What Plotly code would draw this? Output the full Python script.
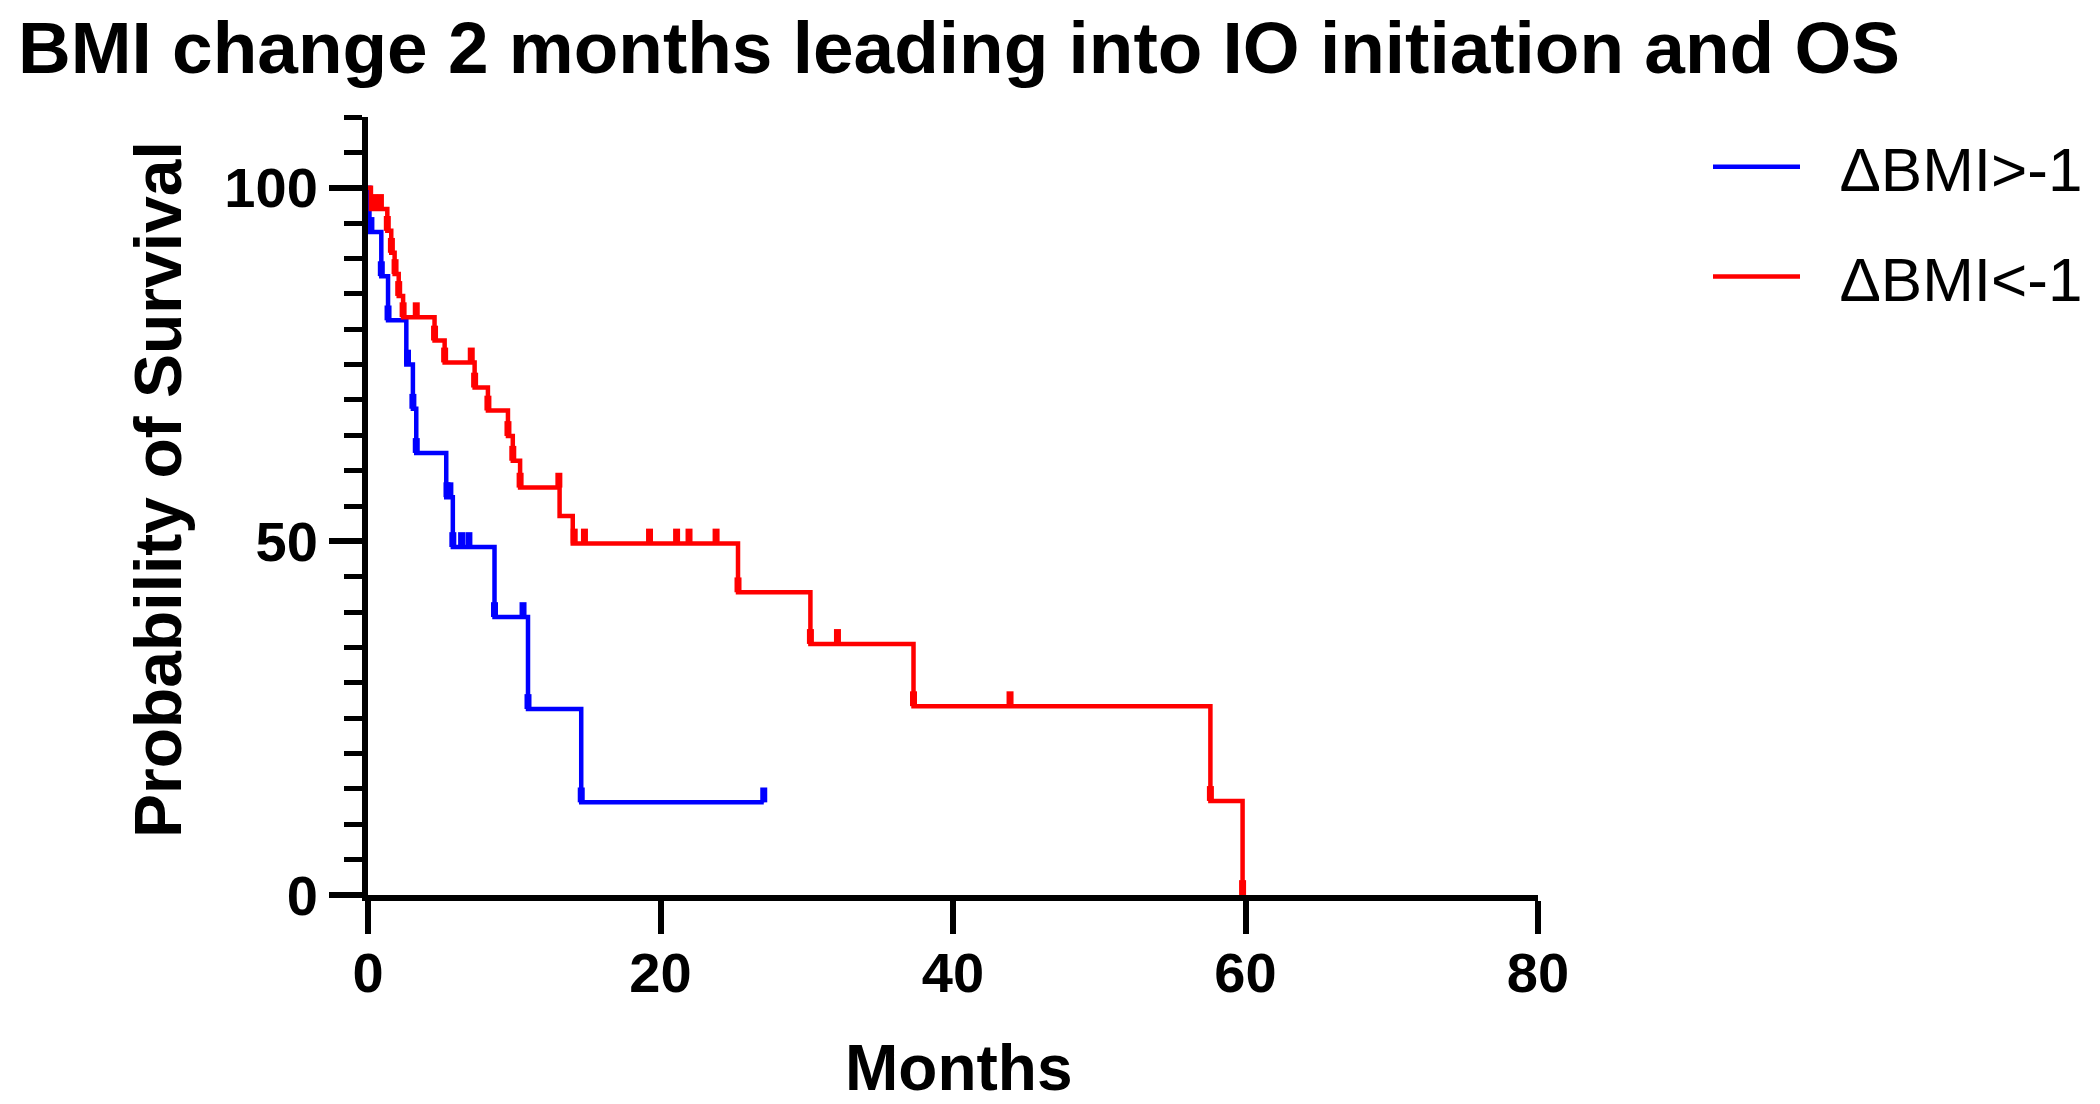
import numpy as np
import plotly.graph_objects as go

# ---------------- data ----------------
series_names = ["ΔBMI>-1", "ΔBMI<-1"]
series_colors = ["#0000FF", "#FF0000"]

blue_event_times = [0.1, 0.91, 1.37, 2.62, 3.07, 3.3, 5.35, 5.8, 8.65, 10.94, 14.58]
blue_survival = [93.75, 87.5, 81.25, 75.0, 68.75, 62.5, 56.25, 49.2, 39.3, 26.3, 13.1]
blue_censor_times = [0.2, 0.91, 1.37, 2.7, 3.07, 3.3, 5.4, 5.6, 5.8, 6.4, 6.9,
                     8.65, 10.6, 10.94, 14.58, 27.06]

red_event_times = [0.2, 1.32, 1.59, 1.82, 2.1, 2.4, 4.55, 5.24, 7.29, 8.2, 9.57,
                   9.9, 10.4, 13.1, 14.0, 25.3, 30.25, 37.3, 57.6, 59.8]
red_survival = [97.0, 93.9, 90.8, 87.8, 84.7, 81.7, 78.4, 75.3, 71.75, 68.5, 64.9,
                61.4, 57.6, 53.6, 49.7, 42.8, 35.5, 26.7, 13.3, 0.0]
red_censor_times = [0.4, 0.85, 1.32, 1.6, 1.85, 2.1, 2.4, 3.3, 4.55, 5.24, 7.06,
                    7.29, 8.2, 9.57, 9.9, 10.4, 13.05, 14.1, 14.8, 19.25, 21.1,
                    21.95, 23.8, 25.3, 30.25, 32.1, 37.3, 43.9, 57.6, 59.8]

x_ticks = [0, 20, 40, 60, 80]
y_ticks = [0, 50, 100]

title_text = "BMI change 2 months leading into IO initiation and OS"
x_title = "Months"
y_title = "Probability of Survival"

# ---------------- helpers ----------------
def step_path(times, surv, censors):
    xs = [0.0] + list(times)
    ys = [100.0] + list(surv)
    end = max(censors) if censors else xs[-1]
    if end > xs[-1]:
        xs.append(end)
        ys.append(ys[-1])
    return xs, ys


def level_at(times, surv, t):
    idx = int(np.searchsorted(np.array(times), t, side="right"))
    return 100.0 if idx == 0 else surv[idx - 1]


groups = [
    (blue_event_times, blue_survival, blue_censor_times),
    (red_event_times, red_survival, red_censor_times),
]

FONT = "Liberation Sans, Arial, sans-serif"
TICK_UP = 2.1  # censor tick height in survival units
NBSP = "\u00a0"

fig = go.Figure()
for (times, surv, cens), name, color in zip(groups, series_names, series_colors):
    xs, ys = step_path(times, surv, cens)
    fig.add_trace(go.Scatter(
        x=xs, y=ys, mode="lines", name=NBSP * 2 + name, legendgroup=name,
        line=dict(color=color, width=4.5, shape="hv"), cliponaxis=False,
    ))
    cy = [level_at(times, surv, t) for t in cens]
    fig.add_trace(go.Scatter(
        x=cens, y=cy, mode="markers", showlegend=False, legendgroup=name,
        marker=dict(size=1, color=color), cliponaxis=False, hoverinfo="x+y",
        error_y=dict(type="data", symmetric=False, array=[TICK_UP] * len(cens),
                     arrayminus=[0] * len(cens), thickness=7, width=0, color=color),
    ))

L, R, T, B = 360, 1530, 109, 887
W, H = 2100, 1104


def px_x(px):
    return (px - L) / (R - L)


def px_y(py):
    return (B - py) / (B - T)


fig.update_layout(
    width=W, height=H,
    margin=dict(l=L, r=W - R, t=T, b=H - B),
    paper_bgcolor="white", plot_bgcolor="white",
    title=dict(text=title_text, font=dict(family=FONT, size=73, color="black", weight="bold"),
               xref="container", x=10 / W, xanchor="left",
               yref="container", y=1 - 14 / H, yanchor="top"),
    showlegend=True,
    legend=dict(font=dict(family=FONT, size=62, color="black"),
                xref="container", x=1700 / W, xanchor="left",
                yref="container", y=1 - 112 / H, yanchor="top",
                tracegroupgap=26, itemwidth=87, bgcolor="rgba(0,0,0,0)"),
    xaxis=dict(range=[0, 80], tickvals=x_ticks, ticks="outside", ticklen=33, tickwidth=6,
               tickcolor="black", showline=True, linewidth=6, linecolor="black",
               showgrid=False, zeroline=False, ticklabelstandoff=-9,
               tickfont=dict(family=FONT, size=56, color="black", weight="bold")),
    yaxis=dict(range=[0, 110], tickvals=y_ticks, ticks="outside", ticklen=33, tickwidth=6,
               tickcolor="black", showline=True, linewidth=6, linecolor="black",
               showgrid=False, zeroline=False,
               minor=dict(tick0=0, dtick=5, ticks="outside", ticklen=18, tickwidth=5,
                          tickcolor="black", showgrid=False),
               tickfont=dict(family=FONT, size=56, color="black", weight="bold")),
    annotations=[
        dict(text=x_title, xref="paper", yref="paper", x=px_x(951), y=px_y(1060),
             xanchor="center", yanchor="middle", showarrow=False,
             font=dict(family=FONT, size=64, color="black", weight="bold")),
        dict(text=y_title, xref="paper", yref="paper", x=px_x(150),
             y=px_y(482), xanchor="center", yanchor="middle", textangle=-90,
             showarrow=False, font=dict(family=FONT, size=66, color="black", weight="bold")),
    ],
)

fig.write_html("out.html")
